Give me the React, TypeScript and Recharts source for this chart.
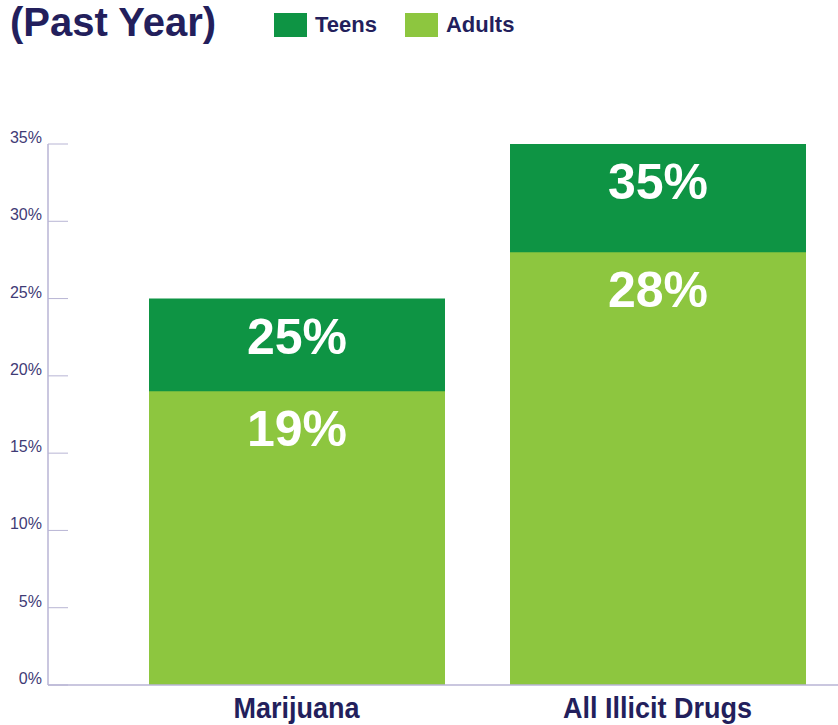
import { BarChart, Bar, XAxis, YAxis, LabelList } from 'recharts'

const CATEGORIES = ['Marijuana', 'All Illicit Drugs']
const TEENS = [25, 35]
const ADULTS = [19, 28]
const Y_TICKS = [0, 5, 10, 15, 20, 25, 30, 35]

const TEEN_GREEN = '#0e9444'
const ADULT_GREEN = '#8dc63f'
const NAVY = '#231f5c'
const AXIS = '#b8b5d4'
const FONT = '"Liberation Sans", Arial, sans-serif'

const data = CATEGORIES.map((name, i) => ({ name, teens: TEENS[i], adults: ADULTS[i] }))

function YTick(props: any) {
  const { x, y, payload } = props
  return (
    <g>
      <line x1={x + 6} x2={x + 26} y1={y} y2={y} stroke={AXIS} strokeWidth={1} />
      <text x={x} y={y - 1} textAnchor="end" fill="#3f3b76" fontSize={16} fontFamily={FONT}>
        {payload.value}%
      </text>
    </g>
  )
}

// condensed bold category label
function XTick(props: any) {
  const { x, y, payload } = props
  return (
    <g transform={`translate(${x},${y}) scale(0.9,1)`}>
      <text x={0} y={0} dy="0.71em" textAnchor="middle" fill={NAVY} fontSize={30} fontWeight="bold" fontFamily={FONT}>
        {payload.value}
      </text>
    </g>
  )
}

function ValueLabel(props: any) {
  const { x, y, width, value } = props
  return (
    <text
      x={x + width / 2}
      y={y + 55}
      textAnchor="middle"
      fill="#fff"
      fontSize={50}
      fontWeight="bold"
      fontFamily={FONT}
    >
      {value}%
    </text>
  )
}

const LEGEND = [
  { label: 'Teens', colour: TEEN_GREEN },
  { label: 'Adults', colour: ADULT_GREEN },
]

export default function App() {
  return (
    <div style={{ position: 'relative', width: 838, height: 725, background: '#fff' }}>
      <style>{`body{margin:0}`}</style>
      <div
        style={{
          position: 'absolute',
          left: 10,
          top: -1,
          fontFamily: FONT,
          fontWeight: 'bold',
          fontSize: 40,
          lineHeight: '46px',
          color: NAVY,
        }}
      >
        (Past Year)
      </div>
      <div style={{ position: 'absolute', left: 274, top: 12, display: 'flex', alignItems: 'center' }}>
        {LEGEND.map(it => (
          <div key={it.label} style={{ display: 'flex', alignItems: 'center', marginRight: 28 }}>
            <div style={{ width: 33, height: 24, background: it.colour, marginRight: 8 }} />
            <span style={{ fontFamily: FONT, fontWeight: 'bold', fontSize: 22, color: NAVY }}>{it.label}</span>
          </div>
        ))}
      </div>
      <BarChart
        width={838}
        height={725}
        data={data}
        margin={{ top: 144, right: 0, bottom: 0, left: 0 }}
        barSize={296}
        barGap={-296}
      >
        <XAxis
          dataKey="name"
          height={40}
          padding={{ left: 68, right: 0 }}
          axisLine={{ stroke: AXIS, strokeWidth: 1.5 }}
          tickLine={false}
          tickSize={0}
          tickMargin={12}
          tick={<XTick />}
        />
        <YAxis
          width={48}
          domain={[0, 35]}
          ticks={Y_TICKS}
          interval={0}
          axisLine={{ stroke: AXIS, strokeWidth: 1.5 }}
          tickLine={false}
          tickSize={0}
          tickMargin={6}
          tick={<YTick />}
        />
        <Bar dataKey="teens" fill={TEEN_GREEN} isAnimationActive={false}>
          <LabelList dataKey="teens" content={<ValueLabel />} />
        </Bar>
        <Bar dataKey="adults" fill={ADULT_GREEN} isAnimationActive={false}>
          <LabelList dataKey="adults" content={<ValueLabel />} />
        </Bar>
      </BarChart>
    </div>
  )
}
